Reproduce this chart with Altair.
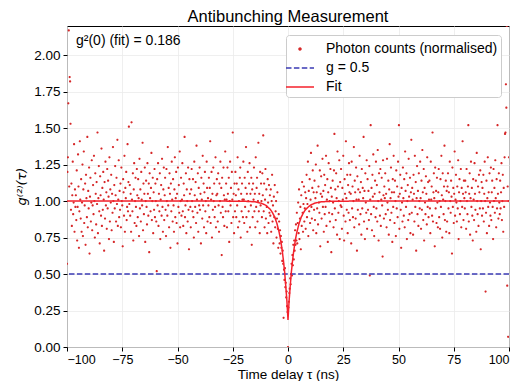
import altair as alt
import pandas as pd

# ---- data -------------------------------------------------------------
TAU_START = -100.0      # ns, first bin centre
TAU_STEP = 0.2          # ns, bin width
SCALE = 100.0           # g2 values below are stored in percent

g2_percent = [
    57, 120, 130, 167, 217, 110, 185, 182, 153, 94, 112, 83, 104, 127, 91, 99, 139, 79, 108, 96,
    104, 87, 121, 73, 96, 132, 110, 68, 93, 141, 101, 88, 115, 79, 99, 125, 76, 108, 134, 85,
    97, 112, 70, 118, 102, 89, 144, 82, 107, 95, 123, 64, 103, 116, 86, 99, 128, 80, 97, 111,
    91, 131, 100, 75, 119, 105, 84, 113, 98, 147, 78, 102, 124, 93, 71, 117, 104, 90, 136, 83,
    109, 94, 120, 101, 66, 113, 88, 127, 97, 106, 81, 122, 95, 114, 103, 74, 130, 86, 108, 99,
    118, 80, 105, 92, 137, 100, 72, 111, 95, 124, 104, 86, 116, 98, 142, 83, 101, 128, 89, 107,
    94, 112, 82, 123, 100, 97, 69, 115, 106, 90, 131, 79, 109, 102, 120, 87, 96, 139, 93, 113,
    151, 98, 111, 90, 105, 79, 154, 101, 93, 119, 73, 108, 126, 85, 100, 116, 96, 83, 122, 104,
    89, 115, 102, 76, 129, 95, 108, 86, 120, 101, 97, 140, 80, 112, 91, 105, 123, 72, 100, 114,
    96, 84, 126, 105, 90, 112, 65, 119, 102, 93, 109, 133, 87, 100, 116, 78, 106, 94, 122, 89,
    112, 100, 86, 52, 115, 97, 126, 83, 105, 93, 119, 74, 101, 111, 90, 129, 96, 79, 108, 123,
    87, 104, 116, 94, 76, 122, 100, 90, 137, 97, 109, 82, 119, 105, 68, 112, 93, 127, 101, 86,
    115, 97, 79, 108, 130, 89, 102, 120, 85, 105, 71, 123, 96, 111, 92, 134, 82, 100, 116, 90,
    101, 126, 93, 83, 112, 104, 144, 89, 97, 119, 78, 108, 100, 86, 123, 94, 67, 115, 105, 96,
    82, 108, 122, 100, 93, 115, 89, 75, 127, 104, 96, 113, 85, 138, 101, 92, 119, 79, 109, 97,
    123, 94, 105, 71, 116, 101, 88, 131, 97, 112, 82, 106, 120, 93, 100, 78, 127, 109, 86, 102,
    97, 116, 89, 109, 141, 85, 101, 120, 75, 105, 94, 123, 100, 112, 89, 96, 130, 82, 104, 115,
    105, 86, 119, 97, 79, 112, 100, 127, 92, 109, 63, 116, 96, 89, 123, 104, 83, 101, 134, 93,
    112, 101, 82, 123, 105, 93, 116, 72, 100, 127, 97, 109, 85, 120, 101, 147, 89, 105, 78, 112,
    93, 120, 104, 89, 112, 97, 130, 82, 108, 100, 86, 116, 123, 75, 105, 93, 112, 101, 89, 127,
    101, 85, 116, 96, 109, 137, 89, 105, 79, 120, 100, 93, 112, 126, 82, 105, 97, 116, 70, 108,
    89, 112, 101, 123, 93, 105, 82, 130, 96, 109, 116, 86, 100, 140, 93, 105, 78, 120, 97, 112,
    100, 89, 119, 104, 145, 93, 112, 82, 101, 122, 88, 108, 96, 78, 115, 99, 85, 111, 92, 104,
    90, 108, 79, 100, 118, 86, 97, 71, 103, 89, 111, 82, 93, 100, 75, 88, 106, 81, 68, 91,
    86, 71, 80, 64, 76, 68, 72, 59, 66, 57, 20, 53, 46, 54, 41, 44, 34, 38, 28, 24,
    0, 27, 31, 37, 40, 47, 43, 50, 57, 49, 63, 56, 70, 60, 73, 66, 80, 70, 84, 73,
    92, 71, 85, 99, 78, 108, 74, 88, 96, 67, 104, 83, 113, 92, 79, 98, 110, 86, 95, 106,
    81, 102, 118, 89, 98, 127, 76, 107, 93, 115, 85, 101, 133, 96, 88, 109, 121, 80, 106, 94,
    114, 87, 102, 125, 78, 106, 95, 138, 84, 110, 99, 92, 121, 69, 105, 117, 88, 103, 129, 96,
    107, 79, 118, 91, 111, 96, 131, 83, 101, 115, 72, 106, 126, 92, 100, 86, 122, 109, 65, 103,
    91, 114, 99, 82, 121, 146, 95, 108, 87, 119, 102, 77, 134, 110, 92, 100, 128, 74, 113, 97,
    122, 96, 81, 109, 101, 131, 90, 73, 115, 105, 86, 141, 102, 94, 118, 78, 111, 92, 126, 106,
    87, 118, 105, 71, 127, 95, 110, 89, 100, 137, 82, 114, 106, 88, 123, 101, 66, 117, 94, 108,
    101, 84, 131, 106, 91, 113, 77, 122, 95, 109, 102, 144, 86, 107, 74, 119, 99, 92, 128, 81,
    115, 94, 107, 87, 124, 49, 101, 152, 91, 109, 80, 118, 103, 132, 96, 76, 105, 114, 89, 127,
    95, 111, 86, 135, 100, 73, 119, 106, 90, 122, 83, 101, 116, 97, 62, 128, 104, 88, 110, 102,
    119, 91, 105, 82, 129, 99, 94, 114, 77, 108, 139, 87, 102, 123, 92, 106, 72, 115, 96, 131,
    106, 85, 114, 100, 76, 121, 95, 110, 89, 127, 103, 152, 81, 105, 118, 94, 68, 109, 99, 86,
    123, 102, 90, 115, 82, 134, 107, 96, 119, 74, 100, 111, 87, 129, 103, 91, 116, 78, 106, 142,
    92, 109, 101, 77, 118, 105, 86, 131, 96, 113, 66, 102, 124, 91, 107, 83, 119, 100, 95, 127,
    102, 81, 114, 94, 135, 106, 87, 122, 73, 109, 99, 91, 117, 105, 84, 130, 96, 113, 89, 101,
    114, 95, 78, 127, 101, 110, 90, 147, 86, 106, 119, 102, 69, 123, 95, 107, 85, 116, 99, 82,
    106, 122, 89, 100, 81, 115, 96, 131, 104, 75, 119, 101, 91, 110, 138, 87, 100, 114, 79, 107,
    86, 110, 119, 95, 106, 78, 127, 100, 92, 114, 103, 64, 123, 96, 109, 85, 105, 134, 90, 101,
    118, 99, 86, 110, 95, 128, 74, 106, 115, 91, 100, 122, 82, 109, 96, 141, 105, 87, 114, 102,
    95, 114, 106, 81, 122, 100, 91, 110, 152, 86, 105, 119, 77, 102, 127, 96, 109, 90, 73, 115,
    101, 87, 126, 105, 94, 114, 79, 133, 100, 91, 110, 83, 118, 106, 95, 121, 67, 100, 113, 90,
    109, 95, 118, 86, 105, 127, 100, 38, 92, 114, 78, 102, 130, 96, 106, 83, 119, 99, 90, 123,
    87, 106, 114, 96, 74, 122, 100, 109, 92, 128, 102, 82, 115, 95, 152, 105, 88, 119, 99, 91,
    114, 95, 106, 126, 87, 100, 118, 79, 109, 96, 130, 146, 147, 180, 164, 220, 42, 110, 7, 100,
    130,
]

fit_tau = [-100, -30, -20, -15, -12, -10, -8, -7, -6, -5, -4, -3.5, -3, -2.5, -2,
           -1.75, -1.5, -1.25, -1, -0.75, -0.5, -0.25, 0, 0.25, 0.5, 0.75, 1, 1.25,
           1.5, 1.75, 2, 2.5, 3, 3.5, 4, 5, 6, 7, 8, 10, 12, 15, 20, 30, 100]
fit_g = [1.0, 1.0, 0.999, 0.995, 0.985, 0.971, 0.943, 0.920, 0.890, 0.846, 0.786,
         0.747, 0.701, 0.647, 0.584, 0.545, 0.512, 0.462, 0.417, 0.366, 0.316,
         0.251, 0.186, 0.251, 0.316, 0.366, 0.417, 0.462, 0.512, 0.545, 0.584,
         0.647, 0.701, 0.747, 0.786, 0.846, 0.890, 0.920, 0.943, 0.971, 0.985,
         0.995, 0.999, 1.0, 1.0]

G_REF = 0.5
G0_FIT = 0.186
SERIES = ["Photon counts (normalised)", "g = 0.5", "Fit"]
COLORS = ["#d62728", "#3a3ab4", "#f5222d"]
X_TICKS = [-100, -75, -50, -25, 0, 25, 50, 75, 100]
Y_TICKS = [0, 0.25, 0.5, 0.75, 1.0, 1.25, 1.5, 1.75, 2.0]

FONT = "Liberation Sans"

# ---- tables -------------------------------------------------------------
tau = [round(TAU_START + i * TAU_STEP, 2) for i in range(len(g2_percent))]
pts = pd.DataFrame({"tau": tau, "g": [v / SCALE for v in g2_percent], "series": SERIES[0]})
ref = pd.DataFrame({"g": [G_REF], "series": [SERIES[1]]})
fit = pd.DataFrame({"tau": fit_tau, "g": fit_g, "series": SERIES[2]})
ann = pd.DataFrame({"t": [f"g²(0) (fit) = {G0_FIT}"]})

DOT = "M0,-0.1A0.1,0.1,0,1,1,0,0.1A0.1,0.1,0,1,1,0,-0.1Z"
LINE = "M-1.4,0H1.4"

x = alt.X("tau:Q", scale=alt.Scale(domain=[-100, 100], nice=False, zero=False),
          axis=alt.Axis(values=X_TICKS, title="Time delay τ (ns)",
                        labelExpr="replace(datum.label, '-', '−')",
                        labelFontSize=12.5, labelPadding=2,
                        titleY=27, titleBaseline="middle"))
y = alt.Y("g:Q", scale=alt.Scale(domain=[0, 2.2], nice=False),
          axis=alt.Axis(values=Y_TICKS, format=".2f", title="g⁽²⁾(τ)",
                        titleFont="DejaVu Sans", titleFontStyle="italic",
                        titleFontSize=13, titleX=-46, titleY=160,
                        titleBaseline="middle", titleAngle=270))

leg = alt.Legend(title=None)
color = alt.Color("series:N", scale=alt.Scale(domain=SERIES, range=COLORS), legend=leg)
dash = alt.StrokeDash("series:N", scale=alt.Scale(domain=SERIES, range=[[1, 0], [5.5, 2.4], [1, 0]]), legend=leg)
shape = alt.Shape("series:N", scale=alt.Scale(domain=SERIES, range=[DOT, LINE, LINE]), legend=leg)

points = alt.Chart(pts).mark_point(filled=True, size=484, opacity=1, clip=True).encode(
    x=x, y=y, color=color, shape=shape)
rule = alt.Chart(ref).mark_rule(strokeWidth=1.5).encode(y=alt.Y("g:Q"), color=color, strokeDash=dash)
line = alt.Chart(fit).mark_line(strokeWidth=1.5, clip=True).encode(
    x=alt.X("tau:Q"), y=alt.Y("g:Q"), color=color, strokeDash=dash)
text = alt.Chart(ann).mark_text(align="left", baseline="middle", font=FONT,
                                fontSize=14, color="black").encode(
    text="t:N", x=alt.value(9), y=alt.value(15))

chart = alt.layer(points, rule, line, text).properties(
    width=442, height=321,
    autosize=alt.AutoSizeParams(type="none"),
    padding={"left": 59, "top": 18, "right": 3, "bottom": 34},
    title=alt.TitleParams("Antibunching Measurement", font=FONT, fontSize=16.5,
                          fontWeight="normal", color="black", anchor="middle", offset=1),
).configure_view(stroke="black", strokeWidth=1).configure_axis(
    labelFont=FONT, labelFontSize=13.5, labelColor="black",
    titleFont=FONT, titleFontSize=13.5, titleColor="black", titleFontWeight="normal",
    tickColor="black", tickSize=4, labelPadding=3, domain=False,
    gridColor="#ebebeb", gridWidth=0.8,
).configure_legend(
    orient="none", legendX=219, legendY=9, fillColor="white", strokeColor="#cccccc",
    cornerRadius=3, padding=3, labelFont=FONT, labelFontSize=14, labelLimit=260,
    labelColor="black", symbolSize=400, symbolStrokeWidth=1.5, labelOffset=15, rowPadding=1,
)

chart.save("out.html", embed_options={"renderer": "svg", "actions": False})
